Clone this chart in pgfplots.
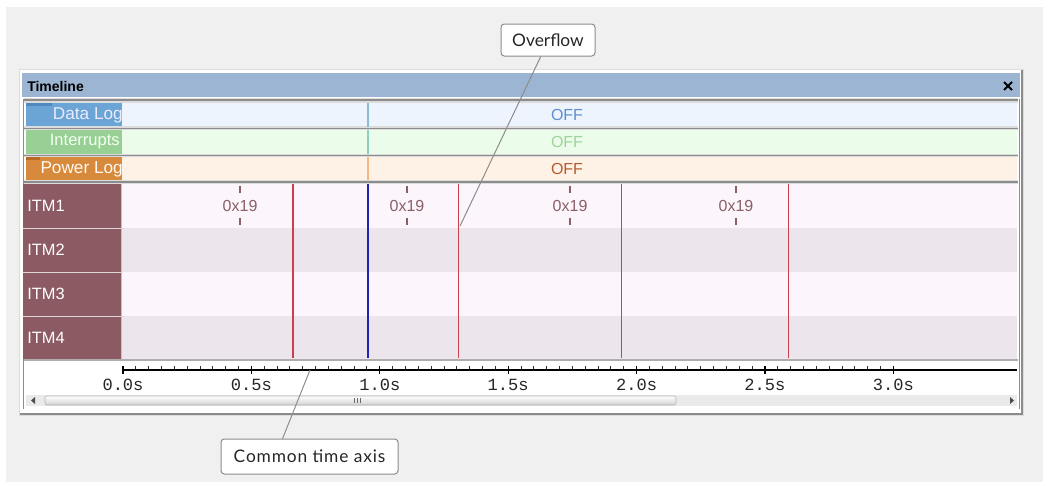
\documentclass[border=0pt]{standalone}
\usepackage{pgfplots}
\pgfplotsset{compat=1.18}
\usepackage{fontspec}
\setmainfont{Liberation Sans}
\newfontfamily\monofont{Liberation Mono}
\newfontfamily\callfont{Lato}
\definecolor{bggray}{HTML}{F0F0F0}
\definecolor{titleblue}{HTML}{9BB5D2}
\definecolor{sepgray}{HTML}{DCDCDC}
\definecolor{sepdark}{HTML}{8C8C8C}
\definecolor{dlcol}{HTML}{6AA5D5}
\definecolor{dltab}{HTML}{4F88BC}
\definecolor{dlbg}{HTML}{EEF4FE}
\definecolor{ircol}{HTML}{98CF94}
\definecolor{irbg}{HTML}{EBFDEA}
\definecolor{plcol}{HTML}{D88A3C}
\definecolor{pltab}{HTML}{B86A24}
\definecolor{plbg}{HTML}{FEF2E7}
\definecolor{itmcol}{HTML}{8B5A62}
\definecolor{itmA}{HTML}{FCF5FC}
\definecolor{itmB}{HTML}{ECE6EC}
\definecolor{itmtext}{HTML}{8A6068}
\definecolor{evred}{HTML}{C8424C}
\definecolor{evblue}{HTML}{2222B8}
\definecolor{offblue}{HTML}{5A8FD0}
\definecolor{offgreen}{HTML}{9ED49A}
\definecolor{offbrown}{HTML}{B85A2E}
\definecolor{mkblue}{HTML}{88BCD0}
\definecolor{mkgreen}{HTML}{8CCFC0}
\definecolor{mkorange}{HTML}{F5B880}
\definecolor{scrollbg}{HTML}{EAEAEA}
\definecolor{callgray}{HTML}{8C8C8C}
\begin{document}
\begin{tikzpicture}[x=0.75pt,y=-0.75pt]
% page and panel
\fill[white] (0,0) rectangle (1049,486);
\fill[bggray] (6,7) rectangle (1043,482);
% window
\fill[white] (19,69) rectangle (1024,416);
\draw[sepgray] (19.5,69.5) rectangle (1023.5,415.5);
\draw[sepdark, line width=1.5pt] (1022,70) -- (1022,414) -- (20,414);
\fill[titleblue] (22,73) rectangle (1020,97);
\node[anchor=west, font=\bfseries\fontsize{10.5}{12}\selectfont, inner sep=0pt] at (27,86) {Timeline};
\draw[line width=1.5pt] (1004,82) -- (1012,90) (1004,90) -- (1012,82);
% content frame
\draw[sepdark, line width=0.75pt] (23,99) -- (23,409);
\draw[sepdark, line width=0.75pt] (1019,99) -- (1019,409);
% separators
\fill[sepgray] (24,98) rectangle (1018,103);
\draw[sepdark, line width=1.2pt] (24,100) -- (1018,100);
\fill[sepgray] (24,126) rectangle (1018,130);
\draw[sepdark, line width=1.2pt] (24,128.5) -- (1018,128.5);
\fill[sepgray] (24,154) rectangle (1018,157);
\draw[sepdark, line width=1.2pt] (24,155.5) -- (1018,155.5);
\fill[sepgray] (24,180) rectangle (1018,184);
\draw[sepdark, line width=1.2pt] (24,182) -- (1018,182);
% status rows
\fill[dlbg] (122,103) rectangle (1017,126);
\fill[dlcol] (26,103) rectangle (122,126);
\fill[dltab] (26,103) rectangle (52,106);
\fill[irbg] (122,130) rectangle (1017,154);
\fill[ircol] (26,130) rectangle (122,154);
\fill[plbg] (122,157) rectangle (1017,180);
\fill[plcol] (26,157) rectangle (122,180);
\fill[pltab] (26,157) rectangle (40,160);
\node[anchor=east, text=white!92!blue, font=\fontsize{12.9}{14}\selectfont, inner sep=0pt] at (123,115) {Data Log};
\node[anchor=east, text=white!95!green, font=\fontsize{12.4}{14}\selectfont, inner sep=0pt] at (120,142) {Interrupts};
\node[anchor=east, text=white!95!orange, font=\fontsize{12.9}{14}\selectfont, inner sep=0pt] at (123,169) {Power Log};
\node[text=offblue, font=\fontsize{12}{14}\selectfont] at (567,115) {OFF};
\node[text=offgreen, font=\fontsize{12}{14}\selectfont] at (567,142) {OFF};
\node[text=offbrown, font=\fontsize{12}{14}\selectfont] at (567,169) {OFF};
% ITM rows
\fill[itmA] (121,184) rectangle (1017,228);
\fill[itmB] (121,228) rectangle (1017,272);
\fill[itmA] (121,272) rectangle (1017,316);
\fill[itmB] (121,316) rectangle (1017,359);
\fill[itmcol] (23,184) rectangle (121,359);
\draw[white!75!itmcol, line width=0.75pt] (23,228) -- (121,228) (23,272) -- (121,272) (23,316) -- (121,316);
\draw[white!60!itmcol, line width=0.75pt] (121.5,184) -- (121.5,359);
\foreach \lab/\yy in {ITM1/206, ITM2/250, ITM3/294, ITM4/338}
  \node[anchor=west, text=white, font=\fontsize{12.3}{14}\selectfont, inner sep=0pt] at (27,\yy) {\lab};
% bottom separator
\draw[sepdark!70, line width=1.2pt] (24,360) -- (1018,360);
% scrollbar
\fill[scrollbg] (26,395) rectangle (1017,406);
\shade[top color=white, bottom color=gray!35, draw=gray!60, rounded corners=1.5pt] (45,396) rectangle (676,405);
\draw[gray!80!black, line width=0.6pt] (354,398) -- (354,403) (357,398) -- (357,403) (360,398) -- (360,403);
\fill[black!70] (31,400.5) -- (35,397) -- (35,404) -- cycle;
\fill[black!70] (1014,400.5) -- (1010,397) -- (1010,404) -- cycle;
% timeline axis
\begin{axis}[
  at={(92.25pt,-277.5pt)}, anchor=south west, scale only axis,
  width=670.5pt, height=200.25pt,
  xmin=0, xmax=3.4815, ymin=-12, ymax=255,
  axis x line=bottom, axis y line=none,
  x axis line style={-, black, line width=0.8pt},
  xtick={0,0.5,1,1.5,2,2.5,3},
  xticklabels={0.0s,0.5s,1.0s,1.5s,2.0s,2.5s,3.0s},
  minor x tick num=9,
  tick align=center,
  major tick length=5.5pt, minor tick length=3pt,
  major tick style={black, line width=0.8pt},
  minor tick style={black!80, line width=0.7pt, yshift=1.2pt},
  xticklabel style={font=\monofont\fontsize{12.8}{14}\selectfont, text=black!85, inner sep=0pt, yshift=-4pt},
  clip=false,
]
% event lines in the ITM rows (time in s)
\addplot[ycomb, evred, line width=0.8pt, mark=none] coordinates {(0.662,174) (1.308,174) (1.943,174) (2.593,174)};
\addplot[ycomb, evblue, line width=0.8pt, mark=none] coordinates {(0.954,174)};
% status-row markers
\addplot[mkblue, line width=0.8pt] coordinates {(0.954,231) (0.954,255)};
\addplot[mkgreen, line width=0.8pt] coordinates {(0.954,204) (0.954,228)};
\addplot[mkorange, line width=0.8pt] coordinates {(0.954,178) (0.954,201)};
% ITM1 values 0x19
\addplot[only marks, mark=|, mark size=2.6pt, mark options={itmtext, line width=1.4pt}] coordinates {
 (0.456,168.5) (1.106,168.5) (1.741,168.5) (2.387,168.5)
 (0.456,136.5) (1.106,136.5) (1.741,136.5) (2.387,136.5)};
\addplot[only marks, mark=text, text mark={0x19}, text mark as node=true,
  text mark style={text=itmtext, font=\fontsize{12}{14}\selectfont}] coordinates {
 (0.456,152) (1.106,152) (1.741,152) (2.387,152)};
\end{axis}
% callouts
\draw[callgray, line width=0.75pt] (541,56) -- (460,226);
\draw[callgray, line width=0.75pt] (282,440) -- (310,370);
\draw[fill=white, draw=callgray, line width=0.75pt, rounded corners=2.5pt] (501,24) rectangle (595,56);
\node[font=\callfont\fontsize{13}{15}\selectfont, text=black!85] at (548,40) {Overflow};
\draw[fill=white, draw=callgray, line width=0.75pt, rounded corners=2.5pt] (221,439) rectangle (398,474);
\node[font=\callfont\fontsize{13}{15}\selectfont\addfontfeatures{LetterSpace=5}, text=black!85] at (309.5,456.5) {Common time axis};
\end{tikzpicture}
\end{document}
